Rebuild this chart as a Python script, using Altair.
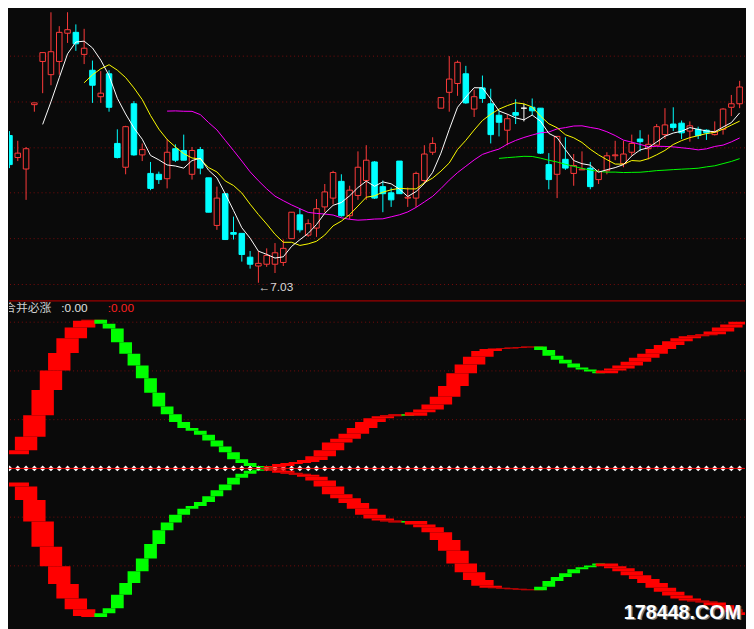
import altair as alt
import pandas as pd

# ---------------- data ----------------
opens = [8.70, 8.45, 8.32, 9.05, 9.54, 9.39, 9.54, 9.86, 9.87, 9.62,
         9.44, 9.14, 9.40, 8.61, 8.34, 9.06, 8.48, 8.27, 8.26, 8.21,
         8.55, 8.53, 8.26, 8.54, 8.22, 7.68, 8.04, 7.60, 7.59, 7.32,
         7.22, 7.24, 7.24, 7.26, 7.53, 7.80, 7.57, 7.65, 7.89, 7.99,
         8.18, 7.79, 8.02, 8.19, 8.40, 8.12, 8.05, 8.41, 7.99, 7.99,
         8.19, 8.51, 9.01, 9.19, 9.29, 9.40, 9.00, 9.24, 9.06, 8.93,
         8.76, 8.96, 9.01, 9.02, 9.01, 8.37, 8.26, 8.43, 8.27, 8.31,
         8.33, 8.20, 8.30, 8.47, 8.38, 8.51, 8.66, 8.55, 8.59, 8.71,
         8.83, 8.84, 8.75, 8.77, 8.76, 8.71, 8.77, 9.02, 9.06]
highs = [8.75, 8.64, 8.57, 9.07, 9.64, 10.10, 9.94, 10.11, 9.96, 9.91,
         9.55, 9.43, 9.44, 8.77, 8.81, 9.09, 8.61, 8.40, 8.29, 8.66,
         8.60, 8.71, 8.57, 8.57, 8.22, 8.12, 8.04, 7.78, 7.59, 7.39,
         7.39, 7.42, 7.48, 7.52, 7.83, 7.87, 7.75, 7.98, 8.15, 8.30,
         8.26, 8.13, 8.52, 8.59, 8.41, 8.19, 8.11, 8.41, 8.11, 8.29,
         8.59, 8.68, 9.13, 9.60, 9.55, 9.49, 9.22, 9.38, 9.23, 8.98,
         8.94, 9.11, 9.06, 9.12, 9.01, 8.50, 8.69, 8.68, 8.49, 8.52,
         8.40, 8.32, 8.51, 8.64, 8.64, 8.71, 8.76, 8.71, 8.83, 9.01,
         9.02, 8.87, 8.86, 8.80, 8.77, 8.86, 9.01, 9.16, 9.32]
lows = [8.33, 8.41, 7.97, 8.97, 9.18, 9.27, 9.39, 9.75, 9.66, 9.51,
        9.07, 9.07, 8.97, 8.44, 8.26, 8.47, 8.41, 8.08, 8.15, 8.10,
        8.40, 8.42, 8.20, 8.26, 7.83, 7.63, 7.52, 7.52, 7.27, 7.19,
        7.03, 7.21, 7.14, 7.22, 7.53, 7.60, 7.55, 7.55, 7.83, 7.92,
        7.78, 7.75, 7.97, 7.97, 7.98, 7.83, 7.89, 8.04, 7.89, 7.89,
        8.16, 8.48, 9.01, 8.97, 9.15, 9.06, 8.91, 9.07, 8.61, 8.69,
        8.59, 8.83, 8.86, 8.93, 8.49, 8.09, 7.99, 8.31, 8.13, 8.31,
        8.09, 8.15, 8.26, 8.42, 8.34, 8.47, 8.52, 8.43, 8.58, 8.66,
        8.75, 8.66, 8.63, 8.66, 8.65, 8.70, 8.71, 8.92, 9.01]
closes = [8.37, 8.50, 8.55, 9.07, 9.64, 9.65, 9.87, 9.90, 9.74, 9.69,
          9.27, 9.18, 9.02, 8.45, 8.80, 8.48, 8.54, 8.10, 8.20, 8.51,
          8.42, 8.42, 8.53, 8.33, 7.83, 7.99, 7.52, 7.58, 7.35, 7.24,
          7.25, 7.34, 7.37, 7.42, 7.83, 7.63, 7.70, 7.87, 8.06, 8.28,
          7.79, 8.08, 8.34, 8.42, 7.99, 8.04, 7.97, 8.04, 8.00, 8.27,
          8.49, 8.61, 9.13, 9.34, 9.53, 9.07, 9.14, 9.12, 8.71, 8.85,
          8.89, 8.93, 9.01, 8.98, 8.50, 8.20, 8.69, 8.33, 8.36, 8.32,
          8.12, 8.29, 8.47, 8.48, 8.49, 8.61, 8.63, 8.60, 8.80, 8.82,
          8.79, 8.73, 8.81, 8.70, 8.73, 8.74, 9.00, 9.06, 9.25]

# indicator "合并必涨" (upper half; the lower half is its mirror)
band = [0.29, 0.37, 0.65, 1.09, 1.61, 2.01, 2.37, 2.67, 2.89, 3.03,
        3.05, 2.97, 2.87, 2.59, 2.35, 2.11, 1.85, 1.55, 1.27, 1.11,
        0.95, 0.83, 0.77, 0.69, 0.57, 0.45, 0.33, 0.19, 0.11, 0.05,
        0.03, 0.02, 0.05, 0.09, 0.11, 0.13, 0.17, 0.25, 0.37, 0.53,
        0.61, 0.71, 0.83, 0.95, 1.03, 1.07, 1.09, 1.11, 1.08, 1.15,
        1.21, 1.31, 1.47, 1.69, 1.95, 2.13, 2.29, 2.41, 2.45, 2.46,
        2.47, 2.48, 2.49, 2.50, 2.43, 2.31, 2.23, 2.15, 2.07, 2.03,
        1.99, 1.95, 2.01, 2.05, 2.11, 2.19, 2.27, 2.35, 2.45, 2.53,
        2.61, 2.67, 2.71, 2.73, 2.75, 2.81, 2.89, 2.95, 3.01]

grid_top = [9.60, 9.08, 8.56, 8.05, 7.53, 7.01]
grid_bottom = [3, 2, 1, -1, -2]
ma_periods = [60, 20, 10, 5]
ma_colors = ["#00ff00", "#ff00ff", "#ffff00", "#ffffff"]

low_label = ["←7.03"]
low_index = [30]
low_price = [7.03]
high_label = ["←10.11"]
high_index = [7]
high_price = [10.11]

title_texts = ["合并必涨", ":0.00", ":0.00"]
watermark = "178448.COM"

# ---------------- styling ----------------
BG = "#0a0a0a"
RED_C = "#ff3b3b"
CYAN_C = "#00ffff"
GRID_C = "#7a0c0c"
W = 746
H_TOP = 292
H_BOT = 329
X_DOM = [-0.0588, 88.647]
Y_TOP = [6.8315, 10.099]
Y_BOT = [-3.21, 3.45]

n = len(closes)
candles = pd.DataFrame({"i": list(range(n)), "open": opens, "high": highs,
                        "low": lows, "close": closes})

xsc = alt.Scale(domain=X_DOM, nice=False, zero=False, padding=0)
ytop = alt.Scale(domain=Y_TOP, nice=False, zero=False, padding=0)
ybot = alt.Scale(domain=Y_BOT, nice=False, zero=False, padding=0)
X = alt.X("i:Q", scale=xsc, axis=None)

dir_expr = ("datum.close > datum.open ? 'up' : "
            "(datum.close < datum.open ? 'down' : 'flat')")
stroke_scale = alt.Scale(domain=["up", "down", "flat"],
                         range=[RED_C, CYAN_C, "#ffffff"])
fill_scale = alt.Scale(domain=["up", "down", "flat"],
                       range=[BG, CYAN_C, BG])

base = alt.Chart(candles).transform_calculate(dir=dir_expr)

grid1 = alt.Chart(pd.DataFrame({"g": grid_top})).mark_rule(
    color=GRID_C, strokeDash=[1, 3], strokeWidth=1
).encode(y=alt.Y("g:Q", scale=ytop, axis=None))

wicks = base.mark_rule(strokeWidth=1, clip=True).encode(
    x=X,
    y=alt.Y("low:Q", scale=ytop, axis=None),
    y2="high:Q",
    stroke=alt.Stroke("dir:N", scale=stroke_scale, legend=None),
)
bodies = base.mark_bar(size=5.6, strokeWidth=1, clip=True).encode(
    x=X,
    y=alt.Y("open:Q", scale=ytop, axis=None),
    y2="close:Q",
    fill=alt.Fill("dir:N", scale=fill_scale, legend=None),
    stroke=alt.Stroke("dir:N", scale=stroke_scale, legend=None),
)

ma_layers = []
for p, c in zip(ma_periods, ma_colors):
    ma_layers.append(
        alt.Chart(candles)
        .transform_window(ma="mean(close)", cnt="count()", frame=[-(p - 1), 0],
                          sort=[alt.SortField("i")])
        .transform_filter(alt.datum.cnt >= p)
        .mark_line(color=c, strokeWidth=1, clip=True)
        .encode(x=X, y=alt.Y("ma:Q", scale=ytop, axis=None))
    )

lowlab = alt.Chart(pd.DataFrame({"i": low_index, "p": low_price, "t": low_label})).mark_text(
    align="left", baseline="middle", dy=4, fontSize=12, color="#d8d8d8",
    font="Liberation Sans", clip=True
).encode(x=X, y=alt.Y("p:Q", scale=ytop, axis=None), text="t:N")
highlab = alt.Chart(pd.DataFrame({"i": high_index, "p": high_price, "t": high_label})).mark_text(
    align="left", baseline="middle", dy=-3, fontSize=12, color="#d8d8d8",
    font="Liberation Sans", clip=True
).encode(x=X, y=alt.Y("p:Q", scale=ytop, axis=None), text="t:N")

top = alt.layer(grid1, wicks, bodies, *ma_layers, lowlab, highlab).properties(
    width=W, height=H_TOP
)

# ---------------- bottom panel ----------------
bd = pd.DataFrame({"i": list(range(n)), "v": band})
bd["prev"] = bd["v"].shift(1)
bd = bd.dropna().reset_index(drop=True)

rising = alt.datum.v >= alt.datum.prev
col = alt.condition(rising, alt.value("#ff0000"), alt.value("#00ff00"))
siz = alt.condition(rising, alt.value(22.7), alt.value(12.9))

grid2 = alt.Chart(pd.DataFrame({"g": grid_bottom})).mark_rule(
    color=GRID_C, strokeDash=[1, 3], strokeWidth=1
).encode(y=alt.Y("g:Q", scale=ybot, axis=None))

diamonds = alt.Chart(pd.DataFrame({"i": list(range(n)), "z": [0] * n})).mark_point(
    shape="diamond", filled=True, color="#ffffff", size=34, opacity=1, clip=True
).encode(x=X, y=alt.Y("z:Q", scale=ybot, axis=None))

zero = alt.Chart(pd.DataFrame({"z": [0]})).mark_rule(color="#ff0000", strokeWidth=1).encode(
    y=alt.Y("z:Q", scale=ybot, axis=None)
)

upper = alt.Chart(bd).mark_bar(clip=True).encode(
    x=X, y=alt.Y("v:Q", scale=ybot, axis=None), y2="prev:Q", color=col, size=siz
)
lower = alt.Chart(bd).transform_calculate(nv="-datum.v", npv="-datum.prev").mark_bar(
    clip=True
).encode(x=X, y=alt.Y("nv:Q", scale=ybot, axis=None), y2="npv:Q", color=col, size=siz)

sep = alt.Chart(pd.DataFrame({"z": [0]})).mark_rule(color="#9a0000", strokeWidth=1.2).encode(
    x=alt.value(0), x2=alt.value(W), y=alt.value(0.6)
)

t1 = alt.Chart(pd.DataFrame({"t": [title_texts[0]]})).mark_text(
    align="left", baseline="middle", fontSize=12, color="#d0d0d0",
    font="Noto Sans CJK SC", clip=True
).encode(x=alt.value(-5), y=alt.value(8), text="t:N")
t2 = alt.Chart(pd.DataFrame({"t": [title_texts[1]]})).mark_text(
    align="left", baseline="middle", fontSize=12, color="#e0e0e0",
    font="Liberation Sans", clip=True
).encode(x=alt.value(53), y=alt.value(8), text="t:N")
t3 = alt.Chart(pd.DataFrame({"t": [title_texts[2]]})).mark_text(
    align="left", baseline="middle", fontSize=12, color="#ff2020",
    font="Liberation Sans", clip=True
).encode(x=alt.value(100), y=alt.value(8), text="t:N")

wm_shadow = alt.Chart(pd.DataFrame({"t": [watermark]})).mark_text(
    align="right", baseline="middle", fontSize=20, fontWeight="bold",
    color="#7a7a7a", font="Liberation Sans", clip=True
).encode(x=alt.value(743.5), y=alt.value(318.5), text="t:N")
wm = alt.Chart(pd.DataFrame({"t": [watermark]})).mark_text(
    align="right", baseline="middle", fontSize=20, fontWeight="bold",
    color="#ffffff", font="Liberation Sans", clip=True
).encode(x=alt.value(742), y=alt.value(317), text="t:N")

bottom = alt.layer(grid2, diamonds, zero, upper, lower, sep, t1, t2, t3,
                   wm_shadow, wm).properties(width=W, height=H_BOT)

chart = (
    alt.vconcat(top, bottom, spacing=0)
    .properties(background=BG, padding=0)
    .configure_view(strokeWidth=0)
)

chart.save("out.html", embed_options={"renderer": "svg", "actions": False})
